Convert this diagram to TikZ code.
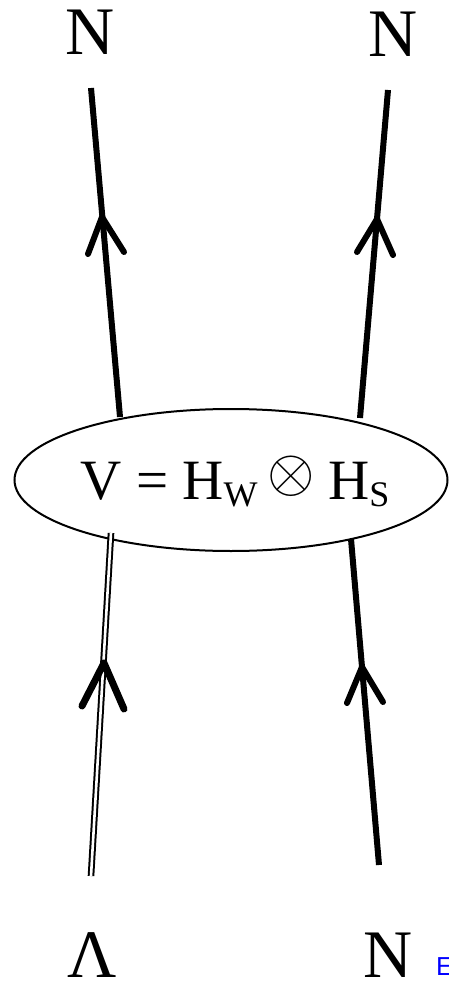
\documentclass[tikz,border=0pt]{standalone}
\usepackage{fontspec}
\setmainfont{Liberation Serif}
\newfontfamily\labsans{Liberation Sans}
\usetikzlibrary{shapes.geometric}
\begin{document}
\begin{tikzpicture}[x=1pt,y=-1pt,
  leg/.style={line width=6pt},
  dleg/.style={line width=2pt,double,double distance=2.6pt},
  head/.style={line width=6pt,line cap=round,line join=round},
  dhead/.style={line width=7pt,line cap=round,line join=round},
  lab/.style={font=\fontsize{68}{68}\selectfont,inner sep=0pt,anchor=base}]
\useasboundingbox (0,0) rectangle (448,981);
% vertex ellipse
\node[draw,ellipse,line width=2pt,minimum width=433pt,minimum height=142pt,inner sep=0pt] (v) at (231,480) {};
\node[inner sep=0pt,anchor=base,font=\fontsize{57}{57}\selectfont] (vt) at (235,499)
  {V = H\raisebox{-7pt}{\fontsize{36}{36}\selectfont W}\hspace{10pt}\raisebox{7.5pt}{\scalebox{2.45}{$\otimes$}}\hspace{13pt}H\raisebox{-7pt}{\fontsize{36}{36}\selectfont S}};
% labels
\node[lab] (n1) at (90,55) {N};
\node[lab] (n2) at (393,57) {N};
\node[lab] (lam) at (92,977) {Λ};
\node[lab] (n3) at (388,977) {N};
\node[inner sep=0pt,anchor=base west,font=\labsans\fontsize{26}{26}\selectfont,text=blue] (e) at (436,975) {E};
% leg coordinates
\coordinate (a1) at (91,88);  \coordinate (a2) at (120,417);
\coordinate (b1) at (388,90); \coordinate (b2) at (360,418);
\coordinate (c1) at (111,533); \coordinate (c2) at (91,876);
\coordinate (d1) at (351,539); \coordinate (d2) at (379,865);
% legs
\draw[leg] (a2) -- (a1);
\draw[leg] (b2) -- (b1);
\draw[dleg] (c2) -- (c1);
\draw[leg] (d2) -- (d1);
% arrowheads
\coordinate (ta) at (102,217); \coordinate (tal) at (88,254); \coordinate (tar) at (124,252);
\coordinate (tb) at (377,219); \coordinate (tbl) at (357,252); \coordinate (tbr) at (393,255);
\coordinate (tc) at (104,663); \coordinate (tcl) at (82,706); \coordinate (tcr) at (124,709);
\coordinate (td) at (362,667); \coordinate (tdl) at (347,703); \coordinate (tdr) at (383,702);
\draw[head] (tal) -- (ta) -- (tar);
\draw[head] (tbl) -- (tb) -- (tbr);
\draw[dhead] (tcl) -- (tc) -- (tcr);
\draw[head] (tdl) -- (td) -- (tdr);
\end{tikzpicture}
\end{document}
